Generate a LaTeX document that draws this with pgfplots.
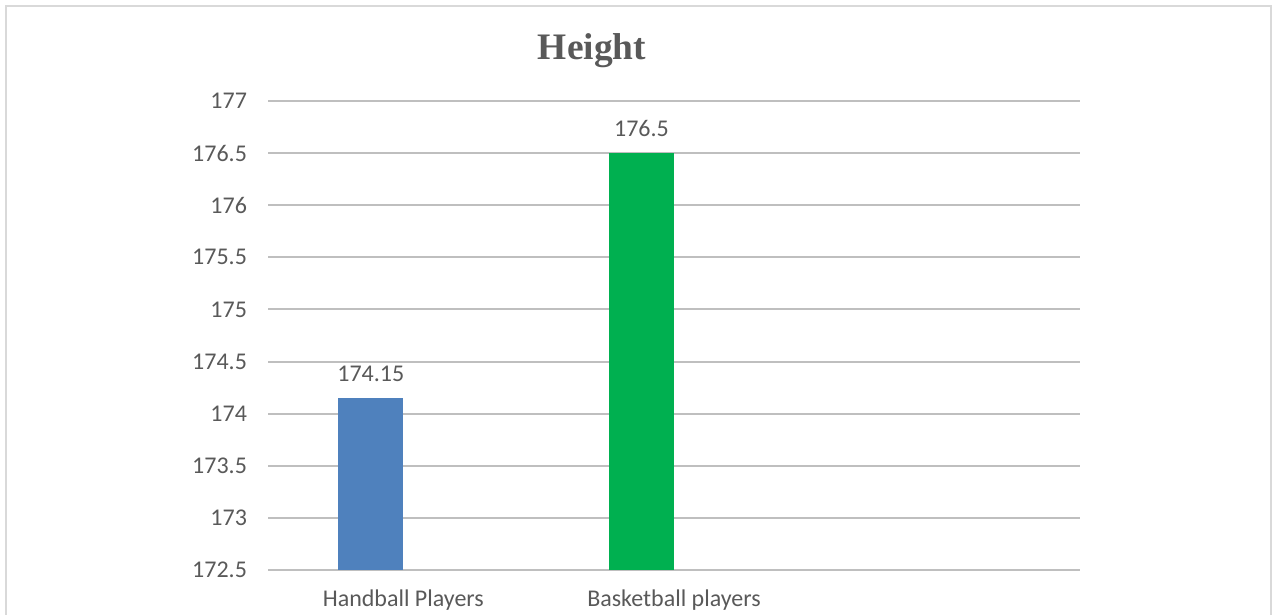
\documentclass[border=0pt]{standalone}
\usepackage{pgfplots}
\pgfplotsset{compat=1.18}
\usepackage{fontspec}
\setmainfont{Carlito}
\newfontfamily\titlefont{Liberation Serif}
\definecolor{txt}{HTML}{595959}
\definecolor{grid}{HTML}{D9D9D9}
\definecolor{barblue}{HTML}{4F81BD}
\definecolor{bargreen}{HTML}{00B050}
\begin{document}
\begin{tikzpicture}
\useasboundingbox (0,0) rectangle (636.5pt,307.5pt);
\draw[grid, line width=1pt] (3pt,0) -- (3pt,304.5pt) -- (635.5pt,304.5pt) -- (635.5pt,0);
\node[text=txt, font=\titlefont\bfseries\fontsize{18.7pt}{22pt}\selectfont] at (296pt,282pt) {Height};
\begin{axis}[
  at={(134pt,22.5pt)}, anchor=south west,
  scale only axis, width=406pt, height=234.5pt,
  ybar, bar width=32.5pt,
  xmin=-0.5, xmax=2.5, ymin=172.5, ymax=177,
  ytick={172.5,173,...,177},
  xtick={0,1}, xticklabels={Handball Players, Basketball players},
  axis line style={draw=none},
  xtick style={draw=none}, ytick style={draw=none},
  major tick length=0pt,
  xmajorgrids=false, ymajorgrids, grid style={grid, line width=1pt},
  /pgf/number format/assume math mode=true,
  ticklabel style={text=txt, font=\fontsize{12pt}{14pt}\selectfont},
  yticklabel style={xshift=-7pt},
  xticklabel style={yshift=-6.5pt},
  nodes near coords={\fontsize{12pt}{14pt}\selectfont\pgfmathprintnumber{\pgfplotspointmeta}},
  every node near coord/.append style={text=txt, yshift=4.5pt},
  /pgf/number format/fixed, /pgf/number format/precision=2,
  clip=false,
]
\addplot[fill=barblue, draw=none, bar shift=-16.25pt] coordinates {(0,174.15)};
\addplot[fill=bargreen, draw=none, bar shift=-16.25pt] coordinates {(1,176.5)};
\end{axis}
\end{tikzpicture}
\end{document}
